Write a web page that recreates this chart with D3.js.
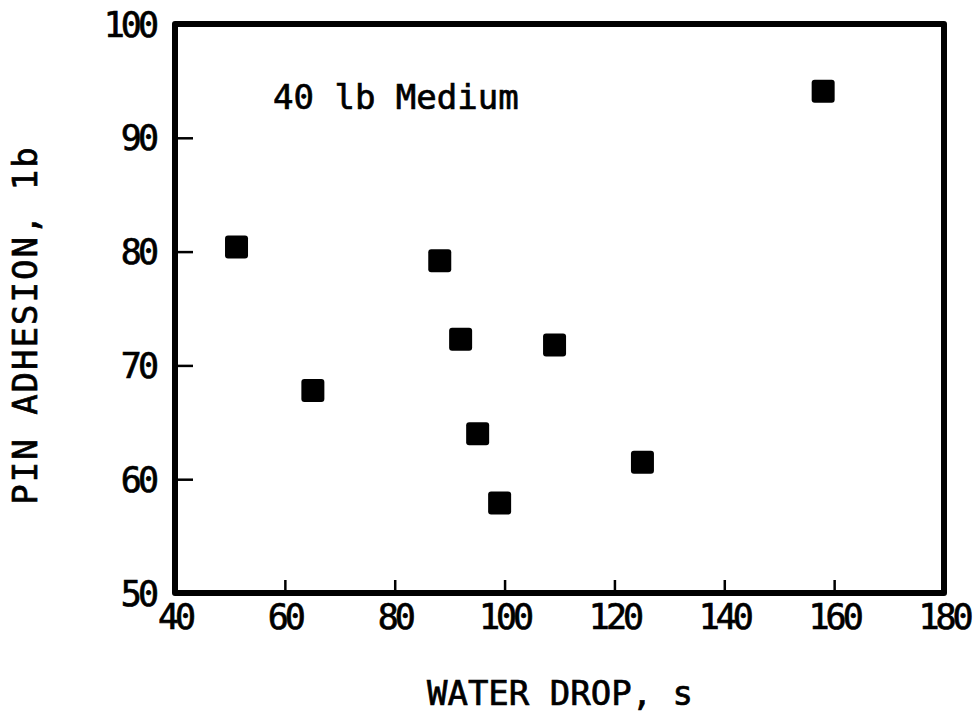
<!DOCTYPE html>
<html>
<head>
<meta charset="utf-8">
<script src="https://cdn.jsdelivr.net/npm/d3@7"></script>
<style>
  html, body { margin: 0; padding: 0; background: #fff; }
  svg { display: block; }
  text { font-family: "DejaVu Sans Mono", monospace; fill: #000; stroke: #000; stroke-width: 0.7px; }
</style>
</head>
<body>
<script>
// ---- data ----
const waterDrop = [51.2, 65.1, 88.2, 92.0, 95.1, 99.1, 109.1, 125.1, 158.0];
const pinAdhesion = [80.4, 67.8, 79.2, 72.3, 64.0, 57.9, 71.8, 61.5, 94.1];
const xTicks = [40, 60, 80, 100, 120, 140, 160, 180];
const yTicks = [50, 60, 70, 80, 90, 100];
const xTitle = "WATER DROP, s";
const yTitle = "PIN ADHESION, 1b";
const annotation = "40 lb Medium";

const W = 979, H = 713;
const m = { left: 175, right: W - 944, top: 24, bottom: H - 593 };

const svg = d3.select("body").append("svg").attr("width", W).attr("height", H);

const x = d3.scaleLinear().domain([40, 180]).range([m.left, W - m.right]);
const y = d3.scaleLinear().domain([50, 100]).range([H - m.bottom, m.top]);

// ticks (inward)
const gx = svg.append("g").attr("transform", `translate(0,${y(50)})`)
  .call(d3.axisTop(x).tickValues(xTicks).tickSize(13).tickFormat(""));
gx.select(".domain").remove();
gx.selectAll("line").attr("stroke", "#000").attr("stroke-width", 2.5);

const gy = svg.append("g").attr("transform", `translate(${x(40)},0)`)
  .call(d3.axisRight(y).tickValues(yTicks).tickSize(18).tickFormat(""));
gy.select(".domain").remove();
gy.selectAll("line").attr("stroke", "#000").attr("stroke-width", 2.5);

// frame
svg.append("rect")
  .attr("x", x(40)).attr("y", y(100))
  .attr("width", x(180) - x(40)).attr("height", y(50) - y(100))
  .attr("fill", "none").attr("stroke", "#000").attr("stroke-width", 6)
  .attr("stroke-linejoin", "round");

// tick labels
svg.append("g").selectAll("text").data(xTicks).join("text")
  .attr("x", d => x(d)).attr("y", 629)
  .attr("text-anchor", "middle")
  .attr("font-size", 35).attr("letter-spacing", -4)
  .text(d => d);

svg.append("g").selectAll("text").data(yTicks).join("text")
  .attr("x", 155).attr("y", d => y(d) + 12.5)
  .attr("text-anchor", "end")
  .attr("font-size", 35).attr("letter-spacing", -4)
  .text(d => d);

// titles
svg.append("text")
  .attr("x", 560).attr("y", 705)
  .attr("text-anchor", "middle")
  .attr("font-size", 34).attr("letter-spacing", 0)
  .text(xTitle);

svg.append("text")
  .attr("transform", `translate(37,325) rotate(-90)`)
  .attr("text-anchor", "middle")
  .attr("font-size", 34).attr("letter-spacing", 2)
  .text(yTitle);

svg.append("text")
  .attr("x", 273).attr("y", 109)
  .attr("font-size", 34).attr("letter-spacing", 0)
  .text(annotation);

// points
const pts = waterDrop.map((d, i) => ({ x: d, y: pinAdhesion[i] }));
const s = 23;
svg.append("g").selectAll("rect").data(pts).join("rect")
  .attr("x", d => x(d.x) - s / 2).attr("y", d => y(d.y) - s / 2)
  .attr("width", s).attr("height", s).attr("rx", 3)
  .attr("fill", "#000");
</script>
</body>
</html>
